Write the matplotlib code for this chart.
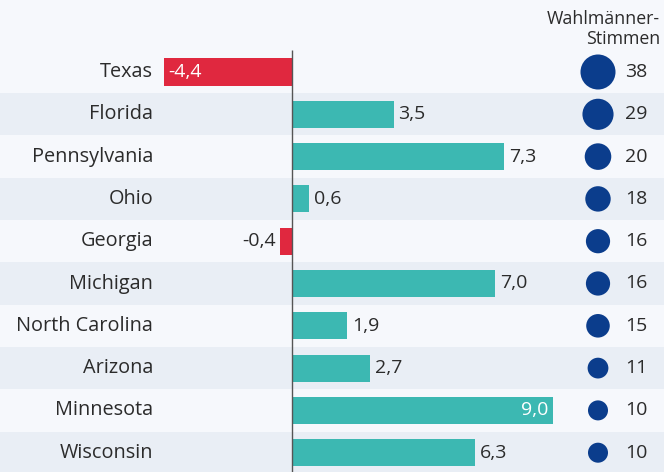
import matplotlib
matplotlib.use("Agg")
import matplotlib.pyplot as plt
import numpy as np

states = ["Texas", "Florida", "Pennsylvania", "Ohio", "Georgia", "Michigan",
          "North Carolina", "Arizona", "Minnesota", "Wisconsin"]
values = [-4.4, 3.5, 7.3, 0.6, -0.4, 7.0, 1.9, 2.7, 9.0, 6.3]
votes = [38, 29, 20, 18, 16, 16, 15, 11, 10, 10]
header = "Wahlmänner-\nStimmen"

plt.rcParams['font.family'] = ['Open Sans', 'DejaVu Sans']

BG = "#f6f8fc"
BAND = "#e9eef5"
TEAL = "#3cb8b2"
RED = "#e0283f"
NAVY = "#0b3d8c"
TXT = "#2b2b2b"

fig = plt.figure(figsize=(6.64, 4.72), dpi=100, facecolor=BG)
ax = fig.add_axes([0, 0, 1, 1])
ax.set_facecolor(BG)

ppu = 29.0  # pixels per unit
x0 = 292.0
ax.set_xlim(-x0 / ppu, (664 - x0) / ppu)
row = 42.3
y0 = 72.0
ax.set_ylim((472 - y0) / row, -y0 / row)
ax.axis("off")

n = len(states)
y = np.arange(n)
for i in range(n):
    if i % 2 == 1:
        ax.axhspan(i - 0.5, i + 0.5, color=BAND, zorder=0, lw=0)

colors = [RED if v < 0 else TEAL for v in values]
ax.barh(y, values, height=0.64, color=colors, zorder=2)
ax.vlines(0, -0.52, 10, color="#555555", lw=1.0, zorder=3)

fs = 14.3
vfs = 14.0
lab_x = (153 - x0) / ppu
for i, (s, v) in enumerate(zip(states, values)):
    ax.text(lab_x, i, s, ha="right", va="center", fontsize=fs, color=TXT, zorder=4)
    t = f"{v:.1f}".replace(".", ",")
    if v <= -1:
        ax.text(v + 4 / ppu, i, t, ha="left", va="center", fontsize=vfs, color="white", zorder=4)
    elif v < 0:
        ax.text(v - 5 / ppu, i, t, ha="right", va="center", fontsize=vfs, color=TXT, zorder=4)
    elif v >= 8.5:
        ax.text(v - 5 / ppu, i, t, ha="right", va="center", fontsize=vfs, color="white", zorder=4)
    else:
        ax.text(v + 5 / ppu, i, t, ha="left", va="center", fontsize=vfs, color=TXT, zorder=4)

circ_x = (598 - x0) / ppu
d_px = 4.2 + 5.0 * np.sqrt(np.array(votes, dtype=float))
s_pts = (d_px * 0.72) ** 2
ax.scatter(np.full(n, circ_x), y, s=s_pts, color=NAVY, zorder=4, linewidths=0)
num_x = (625 - x0) / ppu
for i, v in enumerate(votes):
    ax.text(num_x, i, str(v), ha="left", va="center", fontsize=vfs, color=TXT, zorder=4)

fig.text(660 / 664, 1 - 29 / 472, header, ha="right", va="center", multialignment="right",
         fontsize=12.8, color=TXT, linespacing=1.2)

fig.savefig("out.png", dpi=100, facecolor=BG)
